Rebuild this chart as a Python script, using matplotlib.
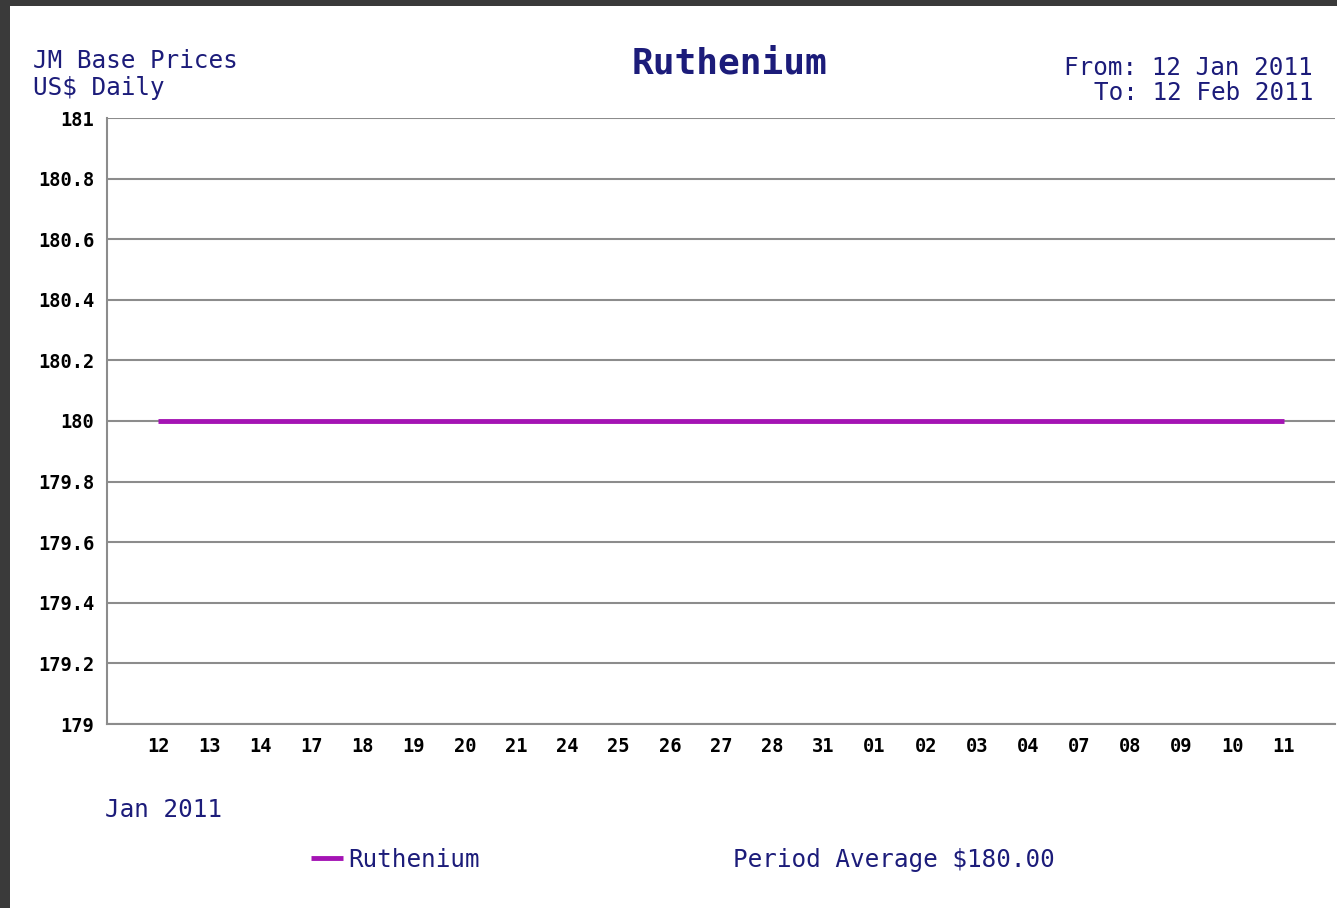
import matplotlib
matplotlib.use('Agg')
import matplotlib.pyplot as plt
from matplotlib.patches import Rectangle

# data
days = ['12', '13', '14', '17', '18', '19', '20', '21', '24', '25', '26', '27',
        '28', '31', '01', '02', '03', '04', '07', '08', '09', '10', '11']
prices = [180.0] * len(days)
y_ticks = [179, 179.2, 179.4, 179.6, 179.8, 180, 180.2, 180.4, 180.6, 180.8, 181]
y_labels = ['179', '179.2', '179.4', '179.6', '179.8', '180',
            '180.2', '180.4', '180.6', '180.8', '181']

W, H = 1337, 908
NAVY = '#1c1c7a'
LINE = '#a414b4'
GRID = '#8c8c8c'
FONT = 'DejaVu Sans Mono'


def fx(x):
    return x / W


def fy(y):
    return 1 - y / H


def main():
    fig = plt.figure(figsize=(W / 100, H / 100), dpi=100, facecolor='#3a3a3a')
    fig.add_artist(Rectangle((fx(10), 0), 1, fy(6), transform=fig.transFigure,
                             facecolor='white', edgecolor='none', zorder=0))

    ax = fig.add_axes([fx(107), fy(724), fx(1335 - 107), (724 - 118) / H])
    ax.set_facecolor('white')
    line, = ax.plot(range(len(days)), prices, color=LINE, linewidth=3.5,
                    solid_capstyle='butt', label='Ruthenium', zorder=3)

    ax.set_xlim(-1, len(days))
    ax.set_ylim(179, 181)
    ax.set_yticks(y_ticks)
    ax.set_yticklabels(y_labels)
    ax.set_xticks(range(len(days)))
    ax.set_xticklabels(days)
    ax.tick_params(length=0, pad=9, labelsize=13.5, labelcolor='black')
    for lab in ax.get_xticklabels() + ax.get_yticklabels():
        lab.set_fontfamily(FONT)
        lab.set_fontweight('bold')
    ax.grid(True, axis='y', color=GRID, linewidth=1.5)
    for side in ['top', 'right']:
        ax.spines[side].set_visible(False)
    for side in ['left', 'bottom']:
        ax.spines[side].set_color(GRID)
        ax.spines[side].set_linewidth(1.5)

    txt = dict(family=FONT, color=NAVY, fontsize=17.5)
    fig.text(fx(33), fy(61), 'JM Base Prices', ha='left', va='center', **txt)
    fig.text(fx(33), fy(88), 'US$ Daily', ha='left', va='center', **txt)
    fig.text(fx(729), fy(64), 'Ruthenium', ha='center', va='center',
             family=FONT, color=NAVY, fontsize=26, fontweight='bold')
    fig.text(fx(1313), fy(68), 'From: 12 Jan 2011', ha='right', va='center', **txt)
    fig.text(fx(1313), fy(93), 'To: 12 Feb 2011', ha='right', va='center', **txt)
    fig.text(fx(105), fy(810), 'Jan 2011', ha='left', va='center', **txt)
    fig.text(fx(733), fy(860), 'Period Average $180.00', ha='left', va='center', **txt)

    fig.legend(handles=[line], loc='center left', bbox_to_anchor=(fx(311), fy(860)),
               frameon=False, handlelength=1.3, handletextpad=0.25, borderpad=0,
               borderaxespad=0, prop={'family': FONT, 'size': 17.5}, labelcolor=NAVY)

    fig.savefig('out.png', dpi=100, facecolor=fig.get_facecolor())


if __name__ == "__main__":
    main()
